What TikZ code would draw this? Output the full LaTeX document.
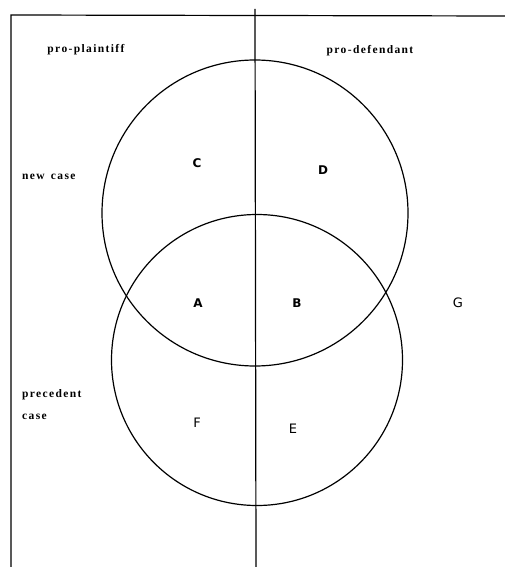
\documentclass[tikz,border=0pt]{standalone}
\usepackage{fontspec}
\setmainfont{Liberation Serif}
\newfontfamily\lettersf{DejaVu Sans}
\newfontfamily\spacedserif[LetterSpace=12]{Liberation Serif}
\begin{document}
\begin{tikzpicture}[x=1pt,y=-1pt,
  frameline/.style={line width=1.2pt, black},
  circ/.style={line width=1.2pt, black},
  lbl/.style={font=\spacedserif\fontsize{11.5}{13}\selectfont\bfseries, inner sep=0pt, align=left},
  bigl/.style={font=\lettersf\fontsize{12}{14}\selectfont\bfseries, inner sep=0pt},
  thinl/.style={font=\lettersf\fontsize{13}{15}\selectfont, inner sep=0pt}]
\useasboundingbox (0,0) rectangle (505,567);
% frame
\coordinate (tl) at (11,15);
\coordinate (tr) at (505,16);
\coordinate (bl) at (11,567);
\coordinate (mt) at (255,9);
\coordinate (mb) at (256,567);
\draw[frameline] (bl) -- (tl) -- (tr);
\draw[frameline] (mt) -- (mb);
% circles
\node[circ, draw, circle, minimum size=306pt, inner sep=0pt] (newc) at (255,213) {};
\node[circ, draw, circle, minimum size=291pt, inner sep=0pt] (prec) at (257,360) {};
% labels
\node[lbl] (pp) at (86,50) {pro-plaintiff};
\node[lbl] (pd) at (370,51) {pro-defendant};
\node[lbl, anchor=west] (nc) at (22,177) {new\, case};
\node[lbl, anchor=west] (pc) at (22,405) {precedent\\[9pt]case};
% region letters
\node[bigl] (C) at (197,163) {C};
\node[bigl] (D) at (323,170) {D};
\node[bigl] (A) at (198,303) {A};
\node[bigl] (B) at (297,303) {B};
\node[thinl] (G) at (458,303) {G};
\node[thinl] (F) at (197,423) {F};
\node[thinl] (E) at (293,429) {E};
\end{tikzpicture}
\end{document}
